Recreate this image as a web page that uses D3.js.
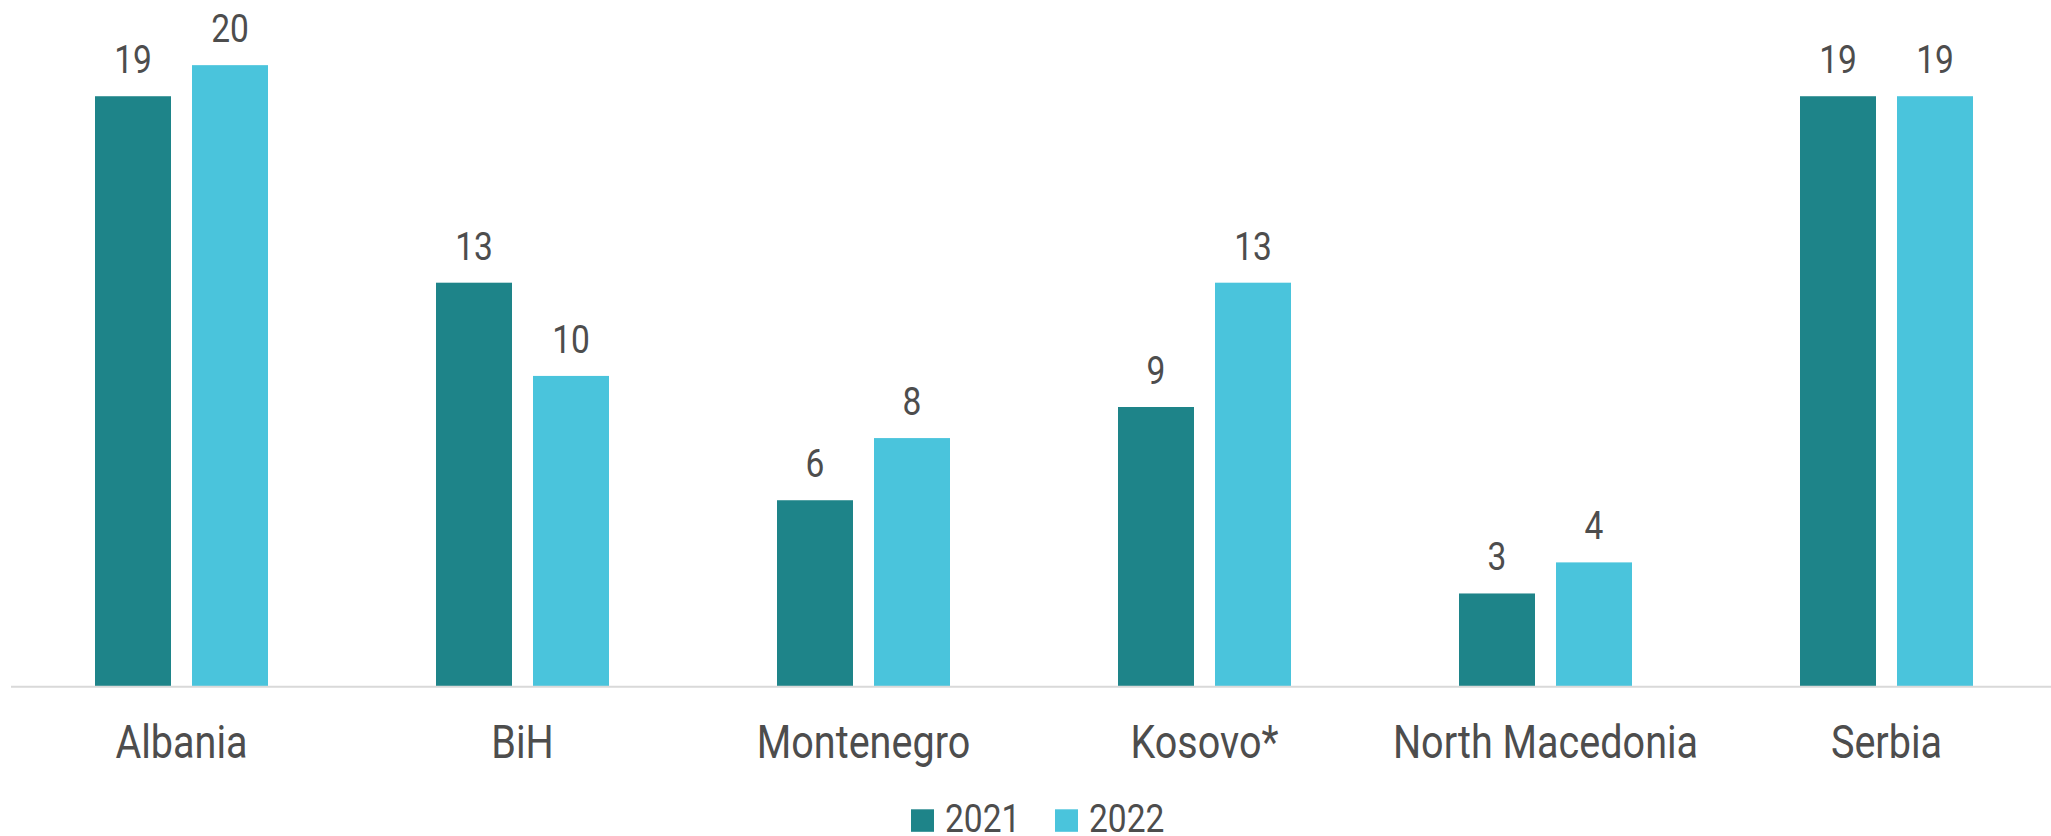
<!DOCTYPE html>
<html>
<head>
<meta charset="utf-8">
<script src="https://cdn.jsdelivr.net/npm/d3@7"></script>
<style>
  html, body { margin: 0; padding: 0; background: #ffffff; }
  svg { display: block; }
  text { font-family: "Roboto", sans-serif; fill: #4d4d4d; }
</style>
</head>
<body>
<svg id="chart" width="2051" height="836"></svg>
<script>
const categories = ["Albania", "BiH", "Montenegro", "Kosovo*", "North Macedonia", "Serbia"];
const seriesNames = ["2021", "2022"];
const values2021 = [19, 13, 6, 9, 3, 19];
const values2022 = [20, 10, 8, 13, 4, 19];
const colors = ["#1e8489", "#4ac4dc"];

const svg = d3.select("#chart");
const W = 2051, H = 836;
const plot = { left: 11, right: 2057, top: 3, bottom: 686.7 };
const SX = 0.86; // horizontal condensing of text

const x = d3.scaleBand().domain(categories).range([plot.left, plot.right]).paddingInner(0).paddingOuter(0);
const step = x.bandwidth();
const barW = 76, barGap = 21, groupW = barW * 2 + barGap;
const xs = d3.scaleBand().domain(seriesNames).range([0, groupW]).paddingInner(barGap / (barW + barGap)).paddingOuter(0);
const y = d3.scaleLinear().domain([0, 22]).range([plot.bottom, plot.top]);

const data = categories.map((c, i) => ({ cat: c, vals: [values2021[i], values2022[i]] }));

const groups = svg.append("g").selectAll("g")
  .data(data).join("g")
  .attr("transform", d => `translate(${x(d.cat) + step / 2 - groupW / 2},0)`);

const items = d => d.vals.map((v, j) => ({ s: seriesNames[j], v, j }));

groups.selectAll("rect")
  .data(items)
  .join("rect")
  .attr("x", d => xs(d.s))
  .attr("width", xs.bandwidth())
  .attr("y", d => y(d.v))
  .attr("height", d => y(0) - y(d.v))
  .attr("fill", d => colors[d.j]);

groups.selectAll("g.val")
  .data(items)
  .join("g")
  .attr("class", "val")
  .attr("transform", d => `translate(${xs(d.s) + xs.bandwidth() / 2},${y(d.v) - 23}) scale(${SX},1)`)
  .append("text")
  .attr("text-anchor", "middle")
  .style("font-size", "39px")
  .text(d => d.v);

// x axis
const xAxis = d3.axisBottom(x).tickSize(0).tickPadding(0);
const ax = svg.append("g").attr("transform", `translate(0,${plot.bottom})`).call(xAxis);
ax.select(".domain").attr("stroke", "#d9d9d9").attr("stroke-width", 2).attr("d", `M${plot.left},0H${W}`);
ax.selectAll(".tick text")
  .attr("y", 0)
  .attr("dy", 0)
  .attr("transform", `translate(0,71.5) scale(${SX},1)`)
  .style("font-size", "46px")
  .style("font-family", "Roboto, sans-serif")
  .attr("fill", "#4d4d4d");

// legend
const legend = svg.append("g");
const legendX = [911, 1055];
seriesNames.forEach((s, i) => {
  legend.append("rect").attr("x", legendX[i]).attr("y", 809.3).attr("width", 23).attr("height", 22.5).attr("fill", colors[i]);
  legend.append("g").attr("transform", `translate(${legendX[i] + 34},832) scale(${SX},1)`)
    .append("text").style("font-size", "39px").text(s);
});
</script>
</body>
</html>
